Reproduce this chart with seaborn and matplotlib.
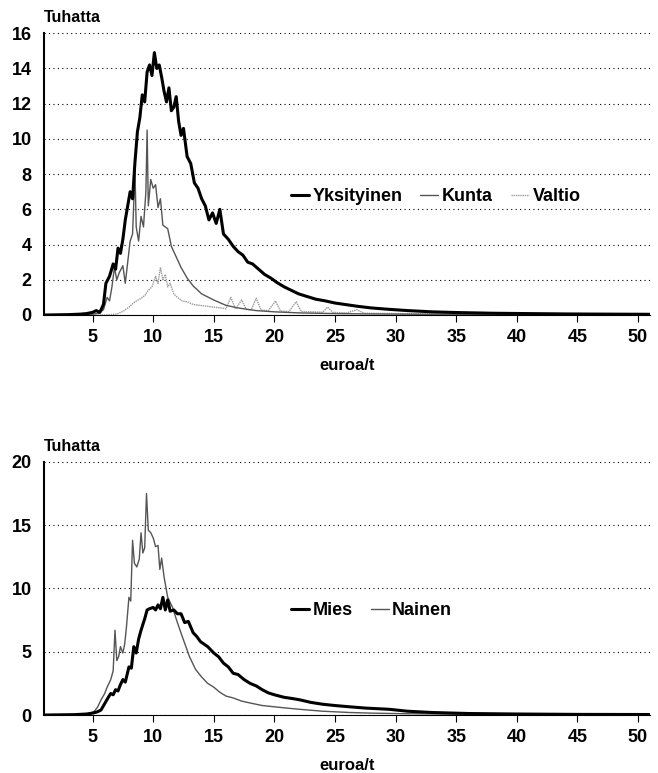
import numpy as np
import pandas as pd
import matplotlib
matplotlib.use('Agg')
import matplotlib.pyplot as plt
import seaborn as sns

sns.set_style('white')
plt.rcParams['font.family'] = ['Liberation Sans', 'DejaVu Sans']
plt.rcParams['font.weight'] = 'bold'
plt.rcParams['text.color'] = 'black'
plt.rcParams['xtick.color'] = 'black'
plt.rcParams['ytick.color'] = 'black'
plt.rcParams['axes.labelcolor'] = 'black'

# top chart: sector
yks_x = [1, 3, 4, 4.5, 5, 5.3, 5.6, 5.9, 6.1, 6.4,
         6.7, 6.9, 7.1, 7.3, 7.5, 7.7, 7.9, 8.1, 8.3, 8.5,
         8.7, 8.9, 9.1, 9.3, 9.5, 9.7, 9.9, 10.1, 10.3, 10.5,
         10.7, 10.9, 11.1, 11.3, 11.5, 11.7, 11.9, 12.1, 12.3, 12.5,
         12.8, 13.1, 13.4, 13.7, 14.0, 14.3, 14.6, 14.9, 15.2, 15.5,
         15.8, 16.2, 16.6, 17.0, 17.4, 17.8, 18.2, 18.7, 19.2, 19.7,
         20.2, 20.8, 21.4, 22.0, 22.7, 23.4, 24.2, 25.0, 25.8, 26.8,
         28, 29.5, 31, 33, 35, 38, 41, 44, 47, 51]
yks_y = [0, 0.02, 0.05, 0.08, 0.15, 0.25, 0.15, 0.6, 1.8, 2.2,
         2.9, 2.6, 3.8, 3.5, 4.3, 5.4, 6.2, 7.0, 6.6, 8.7,
         10.4, 11.2, 12.5, 12.1, 13.8, 14.2, 13.6, 14.9, 14.0, 14.2,
         13.5, 12.7, 12.1, 12.9, 11.6, 11.8, 12.4, 11.0, 10.2, 10.6,
         9.0, 8.6, 7.5, 7.2, 6.6, 6.2, 5.4, 5.8, 5.2, 6.0,
         4.6, 4.3, 3.9, 3.6, 3.4, 3.0, 2.9, 2.6, 2.3, 2.1,
         1.85, 1.6, 1.4, 1.2, 1.05, 0.9, 0.8, 0.68, 0.6, 0.5,
         0.4, 0.32, 0.25, 0.18, 0.14, 0.1, 0.08, 0.06, 0.05, 0.04]

kunta_x = [1, 4, 5, 5.5, 5.9, 6.2, 6.4, 6.6, 6.8, 7.0,
           7.2, 7.5, 7.7, 7.9, 8.1, 8.3, 8.5, 8.6, 8.8, 9.0,
           9.2, 9.4, 9.5, 9.6, 9.8, 10.0, 10.2, 10.4, 10.6, 10.8,
           11.0, 11.2, 11.5, 11.9, 12.3, 12.8, 13.3, 14.0, 15.0, 16.0,
           17.0, 18.5, 20, 22, 25, 28, 32, 36, 42, 51]
kunta_y = [0, 0.02, 0.05, 0.1, 0.3, 1.0, 0.8, 1.6, 2.7, 2.0,
           2.4, 2.8, 1.8, 3.0, 4.2, 4.6, 8.2, 5.0, 4.2, 5.6,
           5.0, 7.0, 10.5, 6.2, 7.7, 7.2, 7.4, 6.1, 6.6, 5.1,
           5.0, 4.9, 3.9, 3.3, 2.7, 2.1, 1.65, 1.2, 0.85, 0.55,
           0.4, 0.25, 0.18, 0.12, 0.08, 0.06, 0.04, 0.03, 0.02, 0.01]

valtio_x = [1, 6, 7.0, 7.5, 8.0, 8.5, 9.0, 9.3, 9.6, 9.9,
            10.2, 10.4, 10.6, 10.8, 11.0, 11.2, 11.4, 11.7, 12.0, 12.4,
            12.8, 13.3, 13.8, 14.4, 15.0, 15.6, 16.0, 16.4, 16.8, 17.3,
            17.7, 18.1, 18.5, 18.9, 19.5, 20.1, 20.5, 21.2, 21.8, 22.2,
            23.0, 24.0, 24.4, 24.8, 26.0, 26.8, 27.4, 30, 35, 40,
            45, 51]
valtio_y = [0, 0, 0.05, 0.2, 0.45, 0.75, 0.95, 1.1, 1.4, 1.6,
            2.2, 1.8, 2.7, 2.0, 2.3, 1.6, 1.8, 1.2, 1.0, 0.8,
            0.75, 0.6, 0.55, 0.5, 0.45, 0.4, 0.35, 1.0, 0.35, 0.85,
            0.3, 0.3, 0.95, 0.28, 0.25, 0.8, 0.22, 0.2, 0.75, 0.2,
            0.18, 0.16, 0.45, 0.15, 0.12, 0.3, 0.1, 0.08, 0.06, 0.05,
            0.04, 0.03]

# bottom chart: gender
mies_x = [1, 3.5, 4.5, 5.0, 5.4, 5.7, 6.0, 6.3, 6.5, 6.7,
          6.9, 7.1, 7.3, 7.5, 7.7, 8.0, 8.2, 8.4, 8.6, 8.8,
          9.0, 9.3, 9.5, 9.7, 10.0, 10.2, 10.4, 10.6, 10.8, 11.0,
          11.2, 11.4, 11.7, 12.0, 12.3, 12.6, 12.9, 13.3, 13.6, 13.9,
          14.2, 14.5, 15.0, 15.4, 15.8, 16.2, 16.6, 17.0, 17.5, 18.0,
          18.5, 19.0, 19.5, 20.0, 20.8, 21.5, 22.1, 23.0, 24.0, 25.0,
          26.2, 27.5, 29.5, 31, 33, 36, 40, 45, 51]
mies_y = [0, 0.03, 0.08, 0.15, 0.25, 0.4, 0.9, 1.4, 1.7, 1.6,
          2.0, 1.9, 2.4, 2.8, 2.6, 3.8, 3.7, 5.4, 4.9, 6.0,
          6.7, 7.6, 8.3, 8.4, 8.5, 8.3, 8.7, 8.4, 9.3, 8.3,
          9.1, 8.2, 8.3, 8.0, 8.0, 7.3, 7.4, 6.5, 6.2, 5.8,
          5.6, 5.4, 4.9, 4.6, 4.1, 3.8, 3.3, 3.2, 2.8, 2.5,
          2.3, 2.0, 1.75, 1.6, 1.4, 1.3, 1.2, 1.0, 0.85, 0.75,
          0.65, 0.55, 0.45, 0.3, 0.2, 0.12, 0.08, 0.05, 0.04]

nainen_x = [1, 3.5, 4.5, 5.1, 5.4, 5.7, 6.0, 6.2, 6.5, 6.7,
            6.85, 7.0, 7.15, 7.3, 7.5, 7.65, 7.8, 8.0, 8.15, 8.3,
            8.45, 8.65, 8.85, 9.0, 9.15, 9.3, 9.45, 9.6, 9.8, 10.0,
            10.2, 10.4, 10.55, 10.7, 10.9, 11.2, 11.6, 12.0, 12.4, 13.0,
            13.5, 14.0, 14.5, 15.0, 15.5, 16.0, 16.6, 17.3, 18.0, 19.0,
            20.0, 21.0, 22.1, 24, 26.2, 28, 31, 35, 40, 45,
            51]
nainen_y = [0, 0.03, 0.08, 0.25, 0.6, 1.2, 1.7, 2.2, 2.8, 3.5,
            6.7, 4.3, 4.6, 5.4, 4.9, 5.6, 7.0, 9.3, 9.0, 13.8,
            12.0, 11.7, 12.3, 14.4, 12.8, 13.2, 17.5, 14.6, 14.4, 14.0,
            13.3, 13.4, 11.5, 12.4, 10.9, 9.3, 8.5, 7.3, 6.2, 4.6,
            3.6, 3.0, 2.5, 2.2, 1.8, 1.5, 1.35, 1.1, 0.95, 0.75,
            0.65, 0.55, 0.45, 0.3, 0.2, 0.15, 0.1, 0.07, 0.05, 0.04,
            0.03]

x_ticks = [5, 10, 15, 20, 25, 30, 35, 40, 45, 50]

fig = plt.figure(figsize=(6.58, 7.73), dpi=100)
ax1 = fig.add_axes([0.067, 0.5925, 0.921, 0.3645])
ax2 = fig.add_axes([0.067, 0.075, 0.921, 0.3275])

# thin lines first, thick on top
sns.lineplot(x=valtio_x, y=valtio_y, ax=ax1, color='#9a9a9a', lw=1.0,
             linestyle=(0, (1, 0.6)), label='Valtio', zorder=3)
sns.lineplot(x=kunta_x, y=kunta_y, ax=ax1, color='#555555', lw=1.0,
             label='Kunta', zorder=4)
sns.lineplot(x=yks_x, y=yks_y, ax=ax1, color='black', lw=2.2,
             label='Yksityinen', zorder=5)

sns.lineplot(x=nainen_x, y=nainen_y, ax=ax2, color='#555555', lw=1.0,
             label='Nainen', zorder=4)
sns.lineplot(x=mies_x, y=mies_y, ax=ax2, color='black', lw=2.2,
             label='Mies', zorder=5)

for ax, ymax, step in [(ax1, 16, 2), (ax2, 20, 5)]:
    ax.set_xlim(1, 51)
    ax.set_ylim(0, ymax)
    ax.set_yticks(np.arange(0, ymax + 1, step))
    ax.set_xticks(x_ticks)
    ax.yaxis.grid(True, color='black', linestyle=(0, (1, 3)), lw=0.8)
    ax.xaxis.grid(False)
    for s in ['top', 'right']:
        ax.spines[s].set_visible(False)
    ax.spines['left'].set_linewidth(1.5)
    ax.spines['left'].set_color('black')
    ax.spines['bottom'].set_linewidth(0.8)
    ax.spines['bottom'].set_color('black')
    ax.tick_params(axis='x', length=5, width=0.8, direction='out',
                   bottom=True, pad=5, labelsize=13)
    ax.tick_params(axis='y', length=0, pad=9, labelsize=13)
    ax.set_xlabel('euroa/t', fontsize=12, fontweight='bold', labelpad=9)
    ax.set_ylabel('')
    ax.text(0.0, 1.03, 'Tuhatta', transform=ax.transAxes, fontsize=11.5,
            fontweight='bold', ha='left', va='bottom')

h, l = ax1.get_legend_handles_labels()
ax1.legend(h[::-1], l[::-1], loc='lower left', bbox_to_anchor=(0.395, 0.365),
           ncol=3, frameon=False, fontsize=13, handlelength=1.0,
           handletextpad=0.2, columnspacing=1.0, borderaxespad=0)
h, l = ax2.get_legend_handles_labels()
ax2.legend(h[::-1], l[::-1], loc='lower left', bbox_to_anchor=(0.395, 0.35),
           ncol=2, frameon=False, fontsize=13, handlelength=1.0,
           handletextpad=0.2, columnspacing=1.0, borderaxespad=0)

fig.savefig('out.png', dpi=100)
